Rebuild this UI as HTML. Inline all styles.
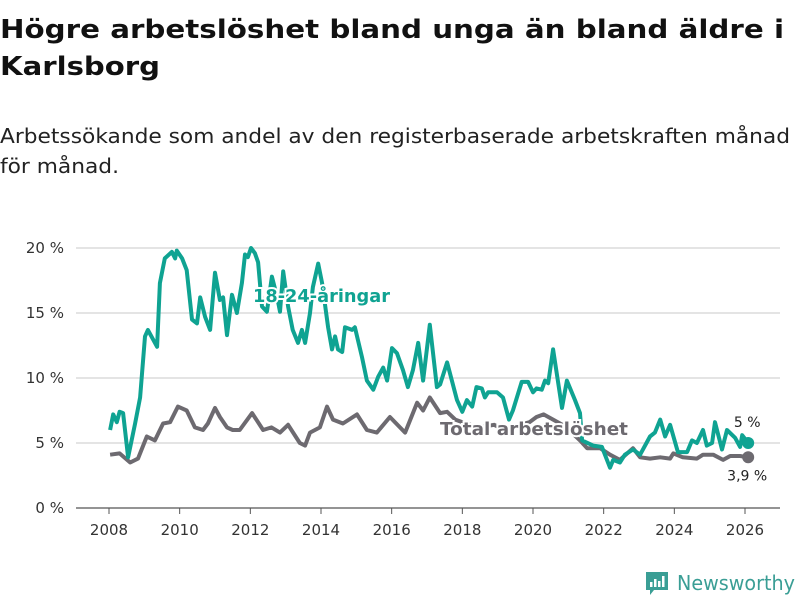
<!DOCTYPE html>
<html><head><meta charset="utf-8"><style>
html,body{margin:0;padding:0;background:#fff;}
svg{display:block;font-family:"DejaVu Sans","Liberation Sans",sans-serif;}
</style></head><body>
<svg id="chart" width="800" height="600" viewBox="0 0 800 600">
<text x="0" y="38" font-size="26" font-weight="bold" fill="#111" textLength="784" lengthAdjust="spacingAndGlyphs">Högre arbetslöshet bland unga än bland äldre i</text>
<text x="0" y="75" font-size="26" font-weight="bold" fill="#111" textLength="160" lengthAdjust="spacingAndGlyphs">Karlsborg</text>
<text x="0" y="143" font-size="20" fill="#222" textLength="790" lengthAdjust="spacingAndGlyphs">Arbetssökande som andel av den registerbaserade arbetskraften månad</text>
<text x="0" y="173" font-size="20" fill="#222" textLength="119" lengthAdjust="spacingAndGlyphs">för månad.</text>
<g id="grid"></g><g id="xaxis"></g><g id="lines"></g><g id="labels"></g>
<g>
<path d="M646 572 h22 v18 h-14 l-4 5 v-5 h-4 z" fill="#3a9e95"/>
<rect x="650" y="582" width="2.5" height="5" fill="#fff"/><rect x="654" y="579" width="2.5" height="8" fill="#fff"/><rect x="658" y="581" width="2.5" height="6" fill="#fff"/><rect x="662" y="576" width="2.5" height="11" fill="#fff"/>
<text x="677" y="590" font-size="20" fill="#3a9e95" textLength="118" lengthAdjust="spacingAndGlyphs">Newsworthy</text>
</g>
</svg>
<script>
const yTicks=[0,5,10,15,20];
const xTicks=[2008,2010,2012,2014,2016,2018,2020,2022,2024,2026];
const youthYears=[2008.03,2008.12,2008.22,2008.3,2008.4,2008.54,2008.74,2008.88,2009.02,2009.1,2009.36,2009.44,2009.58,2009.78,2009.87,2009.92,2010.07,2010.2,2010.35,2010.49,2010.58,2010.72,2010.86,2011.0,2011.14,2011.23,2011.34,2011.48,2011.62,2011.76,2011.85,2011.93,2012.02,2012.13,2012.22,2012.33,2012.47,2012.61,2012.76,2012.84,2012.93,2013.07,2013.2,2013.35,2013.46,2013.55,2013.69,2013.77,2013.92,2014.03,2014.2,2014.31,2014.4,2014.48,2014.6,2014.68,2014.88,2014.96,2015.16,2015.3,2015.48,2015.62,2015.76,2015.87,2016.01,2016.15,2016.32,2016.46,2016.6,2016.75,2016.89,2017.08,2017.28,2017.37,2017.57,2017.85,2018.0,2018.13,2018.28,2018.4,2018.55,2018.64,2018.73,2018.98,2019.15,2019.32,2019.43,2019.68,2019.86,2020.0,2020.1,2020.25,2020.34,2020.43,2020.57,2020.82,2020.96,2021.19,2021.33,2021.39,2021.7,2021.95,2022.18,2022.27,2022.46,2022.6,2022.83,2023.03,2023.31,2023.45,2023.6,2023.74,2023.88,2024.1,2024.36,2024.5,2024.64,2024.81,2024.92,2025.07,2025.15,2025.35,2025.49,2025.72,2025.86,2025.92,2026.09];
const youthValues=[6,7.2,6.6,7.4,7.3,3.9,6.5,8.5,13.2,13.7,12.4,17.3,19.2,19.7,19.2,19.8,19.2,18.3,14.5,14.2,16.2,14.7,13.7,18.1,16,16.2,13.3,16.4,15,17.3,19.5,19.3,20,19.6,18.9,15.5,15.1,17.8,16.2,15.1,18.2,15.5,13.7,12.7,13.7,12.7,15,17,18.8,17.3,13.9,12.2,13.2,12.2,12,13.9,13.7,13.9,11.6,9.8,9.1,10.1,10.8,9.8,12.3,11.9,10.6,9.3,10.6,12.7,9.8,14.1,9.3,9.5,11.2,8.3,7.4,8.3,7.8,9.3,9.2,8.5,8.9,8.9,8.5,6.8,7.5,9.7,9.7,8.9,9.2,9.1,9.8,9.6,12.2,7.7,9.8,8.3,7.3,5.2,4.8,4.7,3.1,3.7,3.5,4.1,4.5,4.1,5.5,5.8,6.8,5.5,6.4,4.3,4.3,5.2,5,6,4.8,5,6.6,4.5,6,5.4,4.7,5.6,5];
const totalYears=[2008.03,2008.3,2008.6,2008.82,2009.07,2009.3,2009.53,2009.73,2009.95,2010.2,2010.43,2010.66,2010.8,2011.0,2011.14,2011.34,2011.5,2011.7,2012.05,2012.36,2012.6,2012.84,2013.07,2013.4,2013.55,2013.69,2013.97,2014.17,2014.34,2014.62,2015.02,2015.3,2015.58,2015.95,2016.38,2016.72,2016.89,2017.08,2017.37,2017.57,2017.8,2018.1,2018.5,2018.9,2019.2,2019.5,2019.9,2020.1,2020.3,2020.57,2020.9,2021.33,2021.53,2021.9,2022.18,2022.46,2022.83,2023.03,2023.31,2023.6,2023.88,2023.97,2024.24,2024.64,2024.81,2025.1,2025.38,2025.58,2025.86,2026.09];
const totalValues=[4.1,4.2,3.5,3.8,5.5,5.2,6.5,6.6,7.8,7.5,6.2,6,6.5,7.7,7,6.2,6,6,7.3,6,6.2,5.8,6.4,5,4.8,5.8,6.2,7.8,6.8,6.5,7.2,6,5.8,7,5.8,8.1,7.5,8.5,7.3,7.4,6.8,6.5,6.2,6.4,6.0,6.3,6.6,7.0,7.2,6.8,6.3,5.2,4.6,4.6,4.1,3.7,4.6,3.9,3.8,3.9,3.8,4.2,3.9,3.8,4.1,4.1,3.7,4,4,3.9];
const NS="http://www.w3.org/2000/svg";
const x=v=>109+(v-2008)*(636/18);
const y=v=>508-v*13;
function mk(tag,attrs,parent,txt){const e=document.createElementNS(NS,tag);for(const k in attrs)e.setAttribute(k,attrs[k]);if(txt!==undefined)e.textContent=txt;document.getElementById(parent).appendChild(e);return e;}
yTicks.forEach(t=>{
 const l=mk('line',{x1:76,x2:780,y1:y(t),y2:y(t),stroke:t===0?'#555':'#dcdcdc','stroke-width':t===0?1.2:1.5},'grid');
 
 
 const tx=mk('text',{x:64,y:y(t)+5,'text-anchor':'end','font-size':15,fill:'#333'},'grid',t+' %');
 
 
});
xTicks.forEach(t=>{
 const l=mk('line',{x1:x(t),x2:x(t),y1:508,y2:514,stroke:'#555'},'xaxis');
 
 
 const tx=mk('text',{x:x(t),y:535,'text-anchor':'middle','font-size':15,fill:'#333'},'xaxis',String(t));
 
 
});
function path(xs,vs){return xs.map((a,i)=>(i?'L':'M')+x(a).toFixed(1)+' '+y(vs[i]).toFixed(1)).join(' ');}
const gp=mk('path',{d:path(totalYears,totalValues),fill:'none',stroke:'#6d6a70','stroke-width':4,'stroke-linejoin':'round'},'lines');


const tp=mk('path',{d:path(youthYears,youthValues),fill:'none',stroke:'#0fa392','stroke-width':4,'stroke-linejoin':'round'},'lines');


const lt=totalYears.length-1, ly=youthYears.length-1;
const gd=mk('circle',{cx:x(totalYears[lt]),cy:y(totalValues[lt]),r:6,fill:'#6d6a70'},'lines');


const td=mk('circle',{cx:x(youthYears[ly]),cy:y(youthValues[ly]),r:6,fill:'#0fa392'},'lines');


const v1=mk('text',{x:x(youthYears[ly])-1,y:y(youthValues[ly])-16,'text-anchor':'middle','font-size':14,fill:'#222',stroke:'#fff','stroke-width':3,'paint-order':'stroke'},'labels',String(youthValues[ly]).replace('.',',')+' %');


const v2=mk('text',{x:x(totalYears[lt])-1,y:y(totalValues[lt])+23,'text-anchor':'middle','font-size':14,fill:'#222',stroke:'#fff','stroke-width':3,'paint-order':'stroke'},'labels',String(totalValues[lt]).replace('.',',')+' %');


const s1=mk('text',{x:253,y:302,'font-size':18,'font-weight':'bold',fill:'#0fa392',stroke:'#fff','stroke-width':4,'paint-order':'stroke',textLength:137,lengthAdjust:'spacingAndGlyphs'},'labels','18-24-åringar');


const s2=mk('text',{x:440,y:435,'font-size':18,'font-weight':'bold',fill:'#6d6a70',stroke:'#fff','stroke-width':4,'paint-order':'stroke',textLength:188,lengthAdjust:'spacingAndGlyphs'},'labels','Total arbetslöshet');


</script>
</body></html>
